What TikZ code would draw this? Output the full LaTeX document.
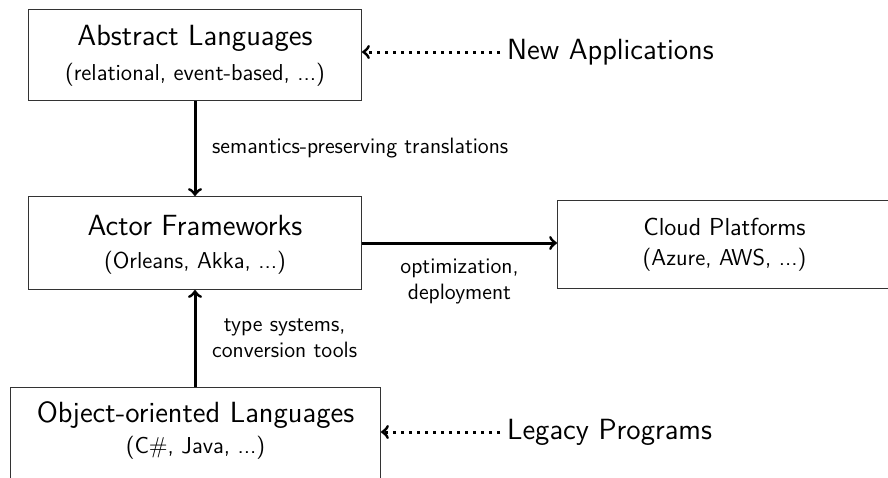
\documentclass[tikz,border=0pt]{standalone}
\usepackage{fontspec}
\usetikzlibrary{arrows,positioning}

\begin{document}
\begin{tikzpicture}[x=0.5pt,y=-0.5pt,font=\sffamily,
    layer/.style={draw=black!80,line width=0.5pt,inner sep=0pt,anchor=north west},
    ttl/.style={font=\sffamily\fontsize{14.6}{17}\selectfont},
    sub/.style={font=\sffamily\fontsize{11.5}{13.5}\selectfont},
    lbl/.style={font=\sffamily\fontsize{11.1}{13}\selectfont,align=center},
    flow/.style={->,line width=1.5pt},
    feed/.style={->,line width=1.5pt,dash pattern=on 1.5pt off 2.5pt}]

\clip (0,0) rectangle (888,477);

\newcommand\layertext[5]
{
    \node[ttl] (#1T) at ([yshift=-#4]#1.north) {#2};
    \node[sub] (#1S) at ([yshift=-#5]#1.north) {#3};
}

\node[layer,minimum width=166.5pt,minimum height=45.5pt] (abs) at (28,9) {};
\layertext{abs}{Abstract Languages}{(relational, event-based, ...)}{14.5pt}{33pt}

\node[layer,minimum width=166.5pt,minimum height=46.5pt] (act) at (28,196) {};
\layertext{act}{Actor Frameworks}{(Orleans, Akka, ...)}{15pt}{33.5pt}

\node[layer,minimum width=167pt,minimum height=44pt] (cloud) at (557,200) {};
\node[sub,font=\sffamily\fontsize{12.3}{14}\selectfont] (cloudT) at ([yshift=-13.5pt]cloud.north) {Cloud Platforms};
\node[sub] (cloudS) at ([yshift=-30pt]cloud.north) {(Azure, AWS, ...)};

\node[layer,minimum width=185pt,minimum height=60pt] (obj) at (10,387) {};
\layertext{obj}{Object-oriented Languages}{(C\#, Java, ...)}{14pt}{30.5pt}

\node[ttl,anchor=west] (newapp) at (500,52) {New Applications};
\node[ttl,anchor=west] (legacy) at (500,432) {Legacy Programs};

\draw[flow] (abs) -- node[lbl,right=4.5pt] {semantics-preserving translations} (act);
\draw[flow] (act.east) -- node[lbl,below=4pt] {optimization,\\deployment} (act.east -| cloud.west);
\draw[flow] (obj.north -| act.south) -- node[lbl,right=4.5pt] {type systems,\\conversion tools} (act.south);

\draw[feed] (newapp.west) -- (newapp.west -| abs.east);
\draw[feed] (legacy.west) -- (legacy.west -| obj.east);

\end{tikzpicture}
\end{document}
